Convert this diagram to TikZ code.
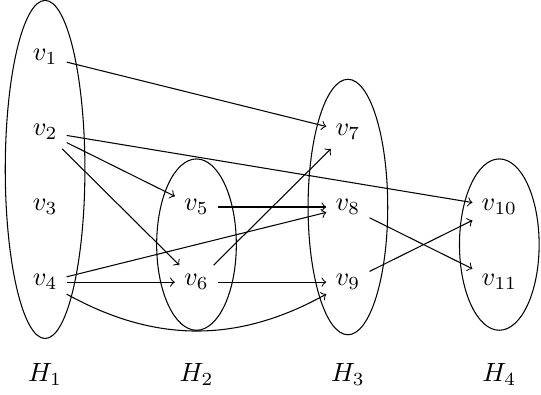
\documentclass[tikz,border=0pt]{standalone}
\usetikzlibrary{shapes.geometric}
\begin{document}
\begin{tikzpicture}[
  x=2.015cm, y=1cm,
  grp/.style={draw, ellipse, inner sep=0pt, minimum width=1.06cm},
  lbl/.style={inner sep=0.3333em},
  arc/.style={->}
]
\useasboundingbox (-0.6cm,-1.49) rectangle (6.6cm,3.755);
% groups
\node[grp, minimum height=4.5cm] (g1) at (0,1.5) {};
\node[grp, minimum height=2.28cm] (g2) at (1,0.5) {};
\node[grp, minimum height=3.4cm] (g3) at (2,1) {};
\node[grp, minimum height=2.28cm] (g4) at (3,0.5) {};
% vertices
\node[lbl] (v1) at (0,3) {$v_1$};
\node[lbl] (v2) at (0,2) {$v_2$};
\node[lbl] (v3) at (0,1) {$v_3$};
\node[lbl] (v4) at (0,0) {$v_4$};
\node[lbl] (v5) at (1,1) {$v_5$};
\node[lbl] (v6) at (1,0) {$v_6$};
\node[lbl] (v7) at (2,2) {$v_7$};
\node[lbl] (v8) at (2,1) {$v_8$};
\node[lbl] (v9) at (2,0) {$v_9$};
\node[lbl] (v10) at (3,1) {$v_{10}$};
\node[lbl] (v11) at (3,0) {$v_{11}$};
% labels
\node (H1) at (0,-1.23) {$H_1$};
\node (H2) at (1,-1.23) {$H_2$};
\node (H3) at (2,-1.23) {$H_3$};
\node (H4) at (3,-1.23) {$H_4$};
% edges
\draw[arc] (v1) -- (v7);
\draw[arc] (v2) -- (v10);
\draw[arc] (v2) -- (v5);
\draw[arc] (v2) -- (v6);
\draw[arc] (v4) -- (v8);
\draw[arc] (v4) -- (v6);
\draw[arc] (v4) to[bend right=29] (v9);
\draw[arc] (v5) -- (v8);
\draw[arc] (v6) -- (v7);
\draw[arc] (v6) -- (v9);
\draw[arc] (v8) -- (v11);
\draw[arc] (v9) -- (v10);
\end{tikzpicture}
\end{document}
